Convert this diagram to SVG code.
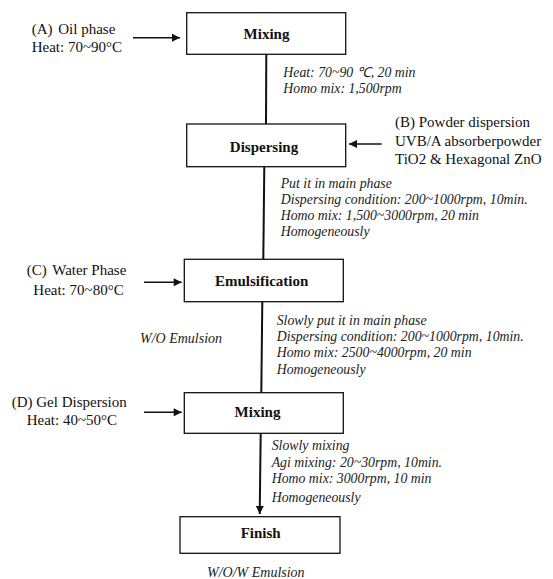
<svg xmlns="http://www.w3.org/2000/svg" width="553" height="579" viewBox="0 0 553 579">
<style>
.box{fill:#fff;stroke:#111;stroke-width:1.3}
.bt{font-family:"Liberation Serif","Times New Roman",serif;font-weight:bold;font-size:15px;fill:#111;text-anchor:middle}
.lb{font-family:"Liberation Serif","Times New Roman",serif;font-size:15px;fill:#111}
.it{font-family:"Liberation Serif","Times New Roman",serif;font-style:italic;font-size:13.8px;fill:#222}
.itc{font-family:"Liberation Serif","Times New Roman",serif;font-style:italic;font-size:14px;fill:#222}
.ln{stroke:#111;stroke-width:2;fill:none}
.ar{stroke:#111;stroke-width:1.5;fill:none}
</style>
<defs>
<marker id="ah" viewBox="0 0 10 10" refX="10" refY="5" markerUnits="userSpaceOnUse" markerWidth="9" markerHeight="8" orient="auto">
<path d="M0,0 L10,5 L0,10 z" fill="#111"/>
</marker>
</defs>
<rect width="553" height="579" fill="#fff"/>
<g id="connectors">
<line class="ln" x1="266.3" y1="54" x2="266" y2="124"/>
<line class="ln" x1="264.3" y1="166.7" x2="263.3" y2="259.3"/>
<line class="ln" x1="262.3" y1="301.7" x2="261.3" y2="392.7"/>
<line class="ln" x1="260.7" y1="433.3" x2="259.7" y2="514" marker-end="url(#ah)"/>
<line class="ar" x1="133" y1="37.7" x2="180" y2="37.7" marker-end="url(#ah)"/>
<line class="ar" x1="381.7" y1="144" x2="349" y2="144" marker-end="url(#ah)"/>
<line class="ar" x1="144" y1="282.3" x2="181.7" y2="282.3" marker-end="url(#ah)"/>
<line class="ar" x1="144" y1="412.3" x2="181.7" y2="412.3" marker-end="url(#ah)"/>
</g>
<g id="mixing1">
<rect class="box" x="186.7" y="12.7" width="159" height="41.6"/>
<text class="bt" x="266.5" y="38.5">Mixing</text>
</g>
<g id="dispersing">
<rect class="box" x="186.7" y="124" width="159" height="42.7"/>
<text class="bt" x="264" y="151.5">Dispersing</text>
</g>
<g id="emulsification">
<rect class="box" x="184.3" y="259.3" width="159" height="42.4"/>
<text class="bt" x="261.7" y="285.7">Emulsification</text>
</g>
<g id="mixing2">
<rect class="box" x="184.3" y="392.7" width="159" height="40.6"/>
<text class="bt" x="257.5" y="417">Mixing</text>
</g>
<g id="finish">
<rect class="box" x="180" y="516.7" width="160" height="36.6"/>
<text class="bt" x="260.7" y="538">Finish</text>
</g>
<g id="inputA">
<text class="lb" x="31.7" y="34">(A) <tspan dx="2">Oil phase</tspan></text>
<text class="lb" x="31.7" y="52">Heat: 70~90°C</text>
</g>
<g id="inputB">
<text class="lb" x="395" y="126.7">(B) Powder dispersion</text>
<text class="lb" x="395" y="145.7">UVB/A  absorberpowder</text>
<text class="lb" x="395" y="164">TiO2 &amp; Hexagonal ZnO</text>
</g>
<g id="inputC">
<text class="lb" x="26.7" y="275">(C) <tspan dx="2">Water Phase</tspan></text>
<text class="lb" x="33.3" y="295">Heat: 70~80°C</text>
</g>
<g id="inputD">
<text class="lb" x="11.7" y="406.7">(D) Gel Dispersion</text>
<text class="lb" x="26.7" y="425">Heat: 40~50°C</text>
</g>
<g id="notes">
<text class="it" x="283.3" y="77.3">Heat: 70~90 ℃, 20 min</text>
<text class="it" x="283.3" y="93.3">Homo mix:  1,500rpm</text>
<text class="it" x="280.7" y="187.7">Put it in main phase</text>
<text class="it" x="280.7" y="204.3">Dispersing condition:  200~1000rpm, 10min.</text>
<text class="it" x="280.7" y="220">Homo mix:  1,500~3000rpm, 20 min</text>
<text class="it" x="280.7" y="235.7">Homogeneously</text>
<text class="it" x="276.7" y="325">Slowly put it in main phase</text>
<text class="it" x="276.7" y="340.7">Dispersing condition:  200~1000rpm, 10min.</text>
<text class="it" x="276.7" y="357.3">Homo mix:  2500~4000rpm, 20 min</text>
<text class="it" x="276.7" y="374">Homogeneously</text>
<text class="it" x="271.7" y="450">Slowly mixing</text>
<text class="it" x="271.7" y="466.7">Agi mixing: 20~30rpm, 10min.</text>
<text class="it" x="271.7" y="483.3">Homo mix:  3000rpm, 10 min</text>
<text class="it" x="271.7" y="501.7">Homogeneously</text>
<text class="itc" x="140" y="343">W/O Emulsion</text>
<text class="itc" x="207" y="577">W/O/W Emulsion</text>
</g>
</svg>
